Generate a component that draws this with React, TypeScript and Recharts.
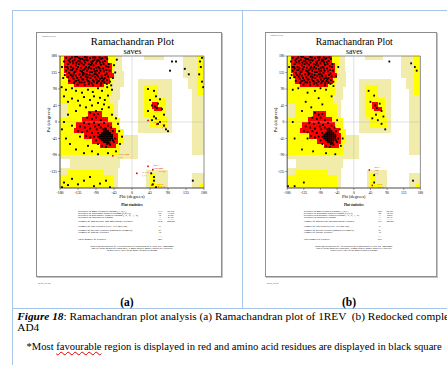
import React from 'react';
import { ScatterChart, Scatter, XAxis, YAxis, ReferenceArea, ReferenceLine, LabelList } from 'recharts';

const PHI_TICKS = [-180, -135, -90, -45, 0, 45, 90, 135, 180];
const PSI_TICKS = [-135, -90, -45, 0, 45, 90, 135, 180];

type Rect = [number, number, number, number]; // phi1, phi2, psi1, psi2
type Pt = [number, number]; // phi, psi

const GENEROUS: Rect[] = [
  [-180, -25, 140, 180], [-180, -20, 95, 140], [-180, -30, 60, 95], [-180, -35, -35, 60],
  [-180, 15, -100, -35], [-155, -30, -125, -100], [-180, -35, -180, -125],
  [15, 100, -30, 118], [35, 90, -180, -130], [30, 80, 170, 180],
  [128, 180, 120, 180], [140, 180, 90, 120], [150, 180, -90, 90], [150, 180, -180, -140],
];
const ALLOWED: Rect[] = [
  [-180, -40, 150, 180], [-180, -45, 110, 150], [-180, -50, 70, 110], [-180, -55, 50, 70],
  [-160, -45, 10, 50], [-180, -30, -20, 10], [-180, -20, -60, -20], [-180, -30, -90, -60],
  [-180, -45, -180, -145], [-160, -70, -145, -130],
  [30, 65, 65, 100], [30, 85, 15, 65], [45, 90, -15, 15],
  [45, 60, -175, -140], [45, 75, -180, -168],
  [162, 180, 75, 180], [168, 180, -180, -165],
];
const CORE: Rect[] = [
  [-170, -60, 160, 180], [-170, -50, 135, 160], [-165, -45, 120, 135], [-160, -55, 105, 120], [-145, -70, 95, 105],
  [-110, -75, 15, 30], [-125, -60, 0, 15], [-140, -50, -15, 0], [-145, -40, -30, -15],
  [-120, -35, -45, -30], [-100, -35, -60, -45], [-80, -40, -72, -60],
  [50, 65, 35, 55], [55, 75, 30, 40],
];

const BETA_CORE: Pt[] = [
  [-165, 175], [-158, 168], [-150, 176], [-143, 170], [-137, 178], [-130, 165], [-124, 172], [-118, 177], [-111, 168],
  [-105, 174], [-98, 166], [-92, 176], [-86, 170], [-80, 162], [-74, 174], [-68, 166], [-62, 172], [-160, 158],
  [-152, 150], [-147, 160], [-140, 154], [-133, 158], [-127, 148], [-121, 156], [-115, 150], [-108, 158], [-102, 146],
  [-96, 154], [-90, 160], [-84, 150], [-78, 156], [-72, 146], [-65, 152], [-58, 158], [-165, 140], [-157, 134],
  [-150, 142], [-144, 136], [-138, 144], [-131, 130], [-125, 138], [-119, 132], [-112, 140], [-106, 128], [-100, 136],
  [-94, 130], [-88, 140], [-82, 134], [-76, 126], [-70, 138], [-63, 132], [-56, 140], [-160, 122], [-153, 128],
  [-146, 118], [-140, 126], [-134, 114], [-128, 122], [-122, 116], [-116, 124], [-110, 112], [-104, 120], [-98, 114],
  [-92, 122], [-86, 110], [-80, 118], [-74, 112], [-68, 120], [-62, 114], [-145, 106], [-136, 102], [-126, 108],
  [-118, 100], [-108, 104], [-98, 100], [-88, 106], [-78, 100], [-155, 163], [-147, 146], [-135, 166], [-129, 172],
  [-117, 162], [-109, 146], [-95, 144], [-87, 166], [-81, 176], [-71, 158], [-121, 142], [-113, 130], [-103, 156],
  [-97, 176], [-91, 132], [-79, 140], [-67, 128], [-140, 112], [-123, 128], [-115, 170], [-102, 164], [-85, 124],
  [-142, 178], [-160, 146], [-168, 128], [-60, 124], [-55, 110], [-170, 165],
  [-162, 150], [-155, 172], [-148, 166], [-139, 162], [-132, 174], [-126, 160], [-120, 168], [-113, 176], [-107, 150],
  [-100, 160], [-94, 170], [-89, 148], [-83, 168], [-77, 172], [-73, 164], [-66, 176], [-64, 142], [-59, 150],
  [-153, 142], [-146, 130], [-141, 138], [-135, 150], [-129, 140], [-123, 134], [-117, 146], [-111, 122], [-105, 136],
  [-99, 126], [-93, 138], [-87, 128], [-81, 146], [-75, 120], [-69, 108], [-63, 104], [-157, 112], [-149, 124],
  [-143, 110], [-137, 120], [-131, 108], [-125, 116], [-119, 108], [-113, 116], [-107, 110], [-101, 106], [-95, 110],
  [-89, 116], [-83, 112], [-77, 106], [-71, 116], [-166, 150],
];
const ALPHA_CORE: Pt[] = [
  [-105, 25], [-95, 20], [-85, 22], [-112, 12], [-100, 8], [-90, 12], [-78, 5], [-120, -2], [-108, -5], [-95, -2],
  [-83, -8], [-70, -3], [-130, -12], [-118, -15], [-105, -18], [-92, -12], [-60, -10], [-135, -25], [-125, -28],
  [-112, -25], [-100, -30], [-88, -20], [-78, -15], [-115, -38], [-105, -42], [-95, -40], [-90, -50], [-85, -60],
  [-75, -65], [-65, -68], [-55, -62], [-45, -55], [-42, -45], [-48, -25], [-52, -15], [-65, -20],
  [-80, -35], [-80, -40], [-80, -45], [-75, -30], [-75, -35], [-75, -40], [-75, -45], [-75, -50], [-70, -25],
  [-70, -30], [-70, -35], [-70, -40], [-70, -45], [-70, -50], [-70, -55], [-65, -25], [-65, -30], [-65, -35],
  [-65, -40], [-65, -45], [-65, -50], [-65, -55], [-60, -25], [-60, -30], [-60, -35], [-60, -40], [-60, -45],
  [-60, -50], [-60, -55], [-55, -30], [-55, -35], [-55, -40], [-55, -45], [-55, -50], [-50, -35], [-50, -40],
  [-50, -45], [-85, -30], [-85, -40], [-62, -60], [-57, -58], [-67, -18], [-72, -20], [-48, -50],
];
const OUTLIERS_A: Pt[] = [
  [-175, 150], [-172, 120], [-176, 95], [-165, 88], [-150, 92], [-140, 85], [-125, 80], [-110, 88], [-98, 82],
  [-85, 92], [-75, 85], [-62, 95], [-52, 100], [-48, 120], [-42, 135], [-45, 155], [-38, 170], [-50, 88], [-60, 72],
  [-68, 60], [-80, 66], [-95, 70], [-105, 60], [-120, 68], [-135, 58], [-150, 64], [-170, 70], [-160, 55],
  [-130, 45], [-115, 40], [-100, 45], [-85, 52], [-70, 48], [-58, 40], [-75, 35], [-90, 30], [-140, 30], [-160, 20],
  [-170, 0], [-175, -20], [-165, -45], [-155, -60], [-140, -75], [-120, -85], [-100, -80], [-85, -88], [-60, -85],
  [-40, -80], [-30, -60], [-25, -40], [-32, -25], [-35, -5], [-40, 10], [-50, 20], [-150, -10], [-130, -40],
  [-110, -65], [-170, -165], [-160, -172], [-150, -155], [-135, -170], [-120, -160], [-105, -150], [-95, -175],
  [-80, -168], [-65, -160], [-55, -178], [-175, -178],
  [40, 90], [55, 85], [60, 70], [45, 60], [70, 62], [50, 45], [58, 42], [62, 38], [65, 50], [75, 35], [80, 20],
  [60, 10], [50, 5], [70, 0], [80, -10], [85, -20], [65, -5], [55, 15], [40, 30], [90, -25],
  [55, -150], [55, -160], [52, -170], [60, -178], [48, -140],
  [170, 165], [172, 150], [168, 130], [175, 110], [178, 95], [175, 175],
  [100, 165], [110, 165], [95, 140], [132, 145], [142, 130], [152, -160],
];
const OUTLIERS_B: Pt[] = [
  [-175, 150], [-172, 120], [-165, 88], [-150, 92], [-125, 80], [-105, 85], [-90, 92], [-75, 88], [-55, 98],
  [-48, 125], [-42, 150], [-60, 70], [-95, 65], [-130, 55], [-115, 40], [-85, 48], [-140, 30], [-165, 0],
  [-160, -45], [-140, -75], [-110, -80], [-75, -85], [-50, -88], [-35, -65], [-30, -45], [-38, -20], [-45, 5],
  [-125, -45], [-135, -165], [-160, -175], [-178, -175],
  [40, 85], [55, 72], [45, 55], [58, 45], [62, 38], [70, 50], [75, 30], [80, 15], [65, 5], [75, -5], [85, -20],
  [60, 20], [50, 10],
  [55, -145], [55, -165],
  [96, 165], [155, 160], [165, 150], [170, 140], [160, -160],
];

const LABELS_A = [
  { phi: -48, psi: -92, label: 'ASN 104 (A)' },
  { phi: 40, psi: 4, label: 'ARG 79 (A)' },
  { phi: 62, psi: -6, label: 'LYS 80 (A)' },
  { phi: 40, psi: -121, label: 'MET 154 (B)' },
  { phi: 52, psi: -130, label: 'ASP 31 (B)' },
  { phi: 12, psi: -140, label: 'ILE 6 (A)' },
  { phi: 50, psi: -172, label: 'GLN 21 (A)' },
];
const LABELS_B = [
  { phi: 42, psi: -131, label: 'MET 154 (A)' },
  { phi: 50, psi: -173, label: 'GLN 21 (A)' },
];

const STAT_LABELS = [
  'Residues in most favoured regions  [A,B,L]',
  'Residues in additional allowed regions  [a,b,l,p]',
  'Residues in generously allowed regions  [~a,~b,~l,~p]',
  'Residues in disallowed regions',
  'Number of non-glycine and non-proline residues',
  'Number of end-residues (excl. Gly and Pro)',
  'Number of glycine residues (shown as triangles)',
  'Number of proline residues',
  'Total number of residues',
];
const STAT_COUNTS_A = ['713', '96', '4', '1', '814', '6', '51', '36', '907'];
const STAT_PCTS_A = ['87.6%', '11.8%', '0.5%', '0.1%', '100.0%'];
const STAT_COUNTS_B = ['690', '85', '3', '1', '779', '6', '51', '36', '872'];
const STAT_PCTS_B = ['88.6%', '10.9%', '0.4%', '0.1%', '100.0%'];
const FOOTNOTE = [
  'Based on an analysis of 118 structures of resolution of at least 2.0 Angstroms',
  'and R-factor no greater than 20%, a good quality model would be expected',
  'to have over 90% in the most favoured regions',
];

const PALE = '#F2ECAA';
const YELLOW = '#FFFF00';
const RED = '#FF0000';
const SERIF = '"Liberation Serif", "Times New Roman", serif';
const SF = { fontFamily: SERIF };

const ROW_Y = [179.7, 181.7, 183.7, 185.7, 190.3, 194.7, 199, 201, 208];

const Square = (p: any) => (
  <rect x={p.cx - 0.95} y={p.cy - 0.95} width={1.9} height={1.9} fill="#000" />
);
const RedSquare = (p: any) => (
  <rect x={p.cx - 0.8} y={p.cy - 0.8} width={1.6} height={1.6} fill="#e00000" />
);

function Panel({ left, scale, outliers, labels, counts, pcts }: any) {
  const pts = [...BETA_CORE, ...ALPHA_CORE, ...outliers].map(([phi, psi]: Pt) => ({ phi, psi }));
  const tick = { fontSize: 3.9, fill: '#000', fontFamily: SERIF };
  const areas = (rects: Rect[], color: string, key: string) =>
    rects.map((r, i) => (
      <ReferenceArea key={key + i} x1={r[0]} x2={r[1]} y1={r[2]} y2={r[3]} fill={color} fillOpacity={1}
        stroke="none" ifOverflow="hidden" shapeRendering="crispEdges" />
    ));
  return (
    <div style={{ position: 'absolute', left, top: 32, width: 186, height: 260, transform: `scaleX(${scale})`, transformOrigin: '0 0' }}>
      <div style={{ position: 'absolute', left: 0, top: 0, width: 186, height: 245, boxSizing: 'border-box', border: '1px solid #8c8c8c', boxShadow: '1px 1px 0 #c4c4c4', background: '#fff' }} />
      <svg style={{ position: 'absolute', left: 0, top: 0 }} width={186} height={260}>
        <text x={6} y={4.5} fontSize={2.6} fill="#222" style={SF}>PROCHECK</text>
        <text x={96.5} y={12.8} fontSize={10.6} textAnchor="middle" fill="#000" style={SF}>Ramachandran Plot</text>
        <text x={96.5} y={21.8} fontSize={8.3} textAnchor="middle" fill="#000" style={SF}>saves</text>
        <text x={96} y={166.3} fontSize={4.8} textAnchor="middle" fill="#000" style={SF}>Phi (degrees)</text>
        <text x={13.5} y={88} fontSize={4.8} textAnchor="middle" fill="#000" transform="rotate(-90 13.5 88)" style={SF}>Psi (degrees)</text>
        <text x={96} y={174} fontSize={3.8} textAnchor="middle" fontWeight="bold" fill="#000" style={SF}>Plot statistics</text>
        {STAT_LABELS.map((s, i) => (
          <text key={'l' + i} x={42} y={ROW_Y[i]} fontSize={2.8} fill="#000" style={SF}>{s}</text>
        ))}
        {counts.map((s: string, i: number) => (
          <text key={'c' + i} x={124} y={ROW_Y[i]} fontSize={2.8} textAnchor="middle" fill="#000" style={SF}>{s}</text>
        ))}
        {pcts.map((s: string, i: number) => (
          <text key={'p' + i} x={135} y={ROW_Y[i]} fontSize={2.8} textAnchor="middle" fill="#000" style={SF}>{s}</text>
        ))}
        <text x={124} y={188} fontSize={2.8} textAnchor="middle" style={SF}>----</text>
        <text x={135} y={188} fontSize={2.8} textAnchor="middle" style={SF}>------</text>
        <text x={124} y={204.6} fontSize={2.8} textAnchor="middle" style={SF}>----</text>
        {FOOTNOTE.map((s, i) => (
          <text key={'f' + i} x={96} y={214.7 + i * 2} fontSize={2.7} textAnchor="middle" fill="#000" style={SF}>{s}</text>
        ))}
        <text x={2} y={252} fontSize={2.6} fill="#333" style={SF}>saves_01.ps</text>
      </svg>
      <div style={{ position: 'absolute', left: 0, top: 20 }}>
        <ScatterChart width={174} height={150} margin={{ top: 4, right: 6, bottom: 4, left: 4 }}>
          <XAxis type="number" dataKey="phi" domain={[-180, 180]} ticks={PHI_TICKS} interval={0} allowDataOverflow
            tick={tick} tickSize={2} tickMargin={1} height={10} stroke="#333" strokeWidth={0.5} />
          <YAxis type="number" dataKey="psi" domain={[-180, 180]} ticks={PSI_TICKS} interval={0} allowDataOverflow
            tick={tick} tickSize={2} tickMargin={1} width={20} stroke="#333" strokeWidth={0.5} />
          {areas(GENEROUS, PALE, 'g')}
          {areas(ALLOWED, YELLOW, 'a')}
          {areas(CORE, RED, 'c')}
          <ReferenceLine x={0} stroke="#bdbdbd" strokeWidth={0.5} />
          <ReferenceLine y={0} stroke="#bdbdbd" strokeWidth={0.5} />
          <ReferenceArea x1={-180} x2={180} y1={-180} y2={180} fill="none" stroke="#444" strokeWidth={0.6} />
          <Scatter data={pts} isAnimationActive={false} shape={Square} />
          <Scatter data={labels} dataKey="psi" isAnimationActive={false} shape={RedSquare}>
            <LabelList dataKey="label" position="right" offset={1} fontSize={2.8} fill="#e00000" fontFamily={SERIF} />
          </Scatter>
        </ScatterChart>
      </div>
    </div>
  );
}

export default function App() {
  const blue = '#a7c6e9';
  return (
    <div style={{ position: 'fixed', left: 0, top: 0, width: 447, height: 365, overflow: 'hidden', background: '#fff', fontFamily: SERIF }}>
      <svg style={{ position: 'absolute', left: 0, top: 0 }} width={447} height={365}>
        <line x1={12} y1={10.5} x2={447} y2={10.5} stroke={blue} strokeWidth={1} />
        <line x1={12.5} y1={10} x2={12.5} y2={365} stroke={blue} strokeWidth={1} />
        <line x1={242.5} y1={10} x2={242.5} y2={308} stroke={blue} strokeWidth={1} />
        <line x1={12} y1={308.5} x2={447} y2={308.5} stroke={blue} strokeWidth={1} />
        <text x={127} y={305.5} fontSize={11.5} fontWeight="bold" textAnchor="middle" style={SF}>(a)</text>
        <text x={349} y={305.5} fontSize={11.5} fontWeight="bold" textAnchor="middle" style={SF}>(b)</text>
      </svg>
      <div style={{ position: 'absolute', left: 17.3, top: 310.6, fontSize: 11.3, lineHeight: '11.7px', whiteSpace: 'pre', fontFamily: SERIF, color: '#000' }}>
        <b><i>Figure 18</i></b>{': Ramachandran plot analysis (a) Ramachandran plot of 1REV  (b) Redocked complex'}
        <br />AD4
      </div>
      <div style={{ position: 'absolute', left: 26.5, top: 341, fontSize: 10.6, lineHeight: '11px', whiteSpace: 'nowrap', fontFamily: SERIF, color: '#000' }}>
        *Most <span style={{ textDecoration: 'underline wavy #e00000', textDecorationThickness: '1px' }}>favourable</span> region is displayed in red and amino acid residues are displayed in black square
      </div>
      <Panel left={36} scale={1} outliers={OUTLIERS_A} labels={LABELS_A} counts={STAT_COUNTS_A} pcts={STAT_PCTS_A} />
      <Panel left={265} scale={0.925} outliers={OUTLIERS_B} labels={LABELS_B} counts={STAT_COUNTS_B} pcts={STAT_PCTS_B} />
    </div>
  );
}
